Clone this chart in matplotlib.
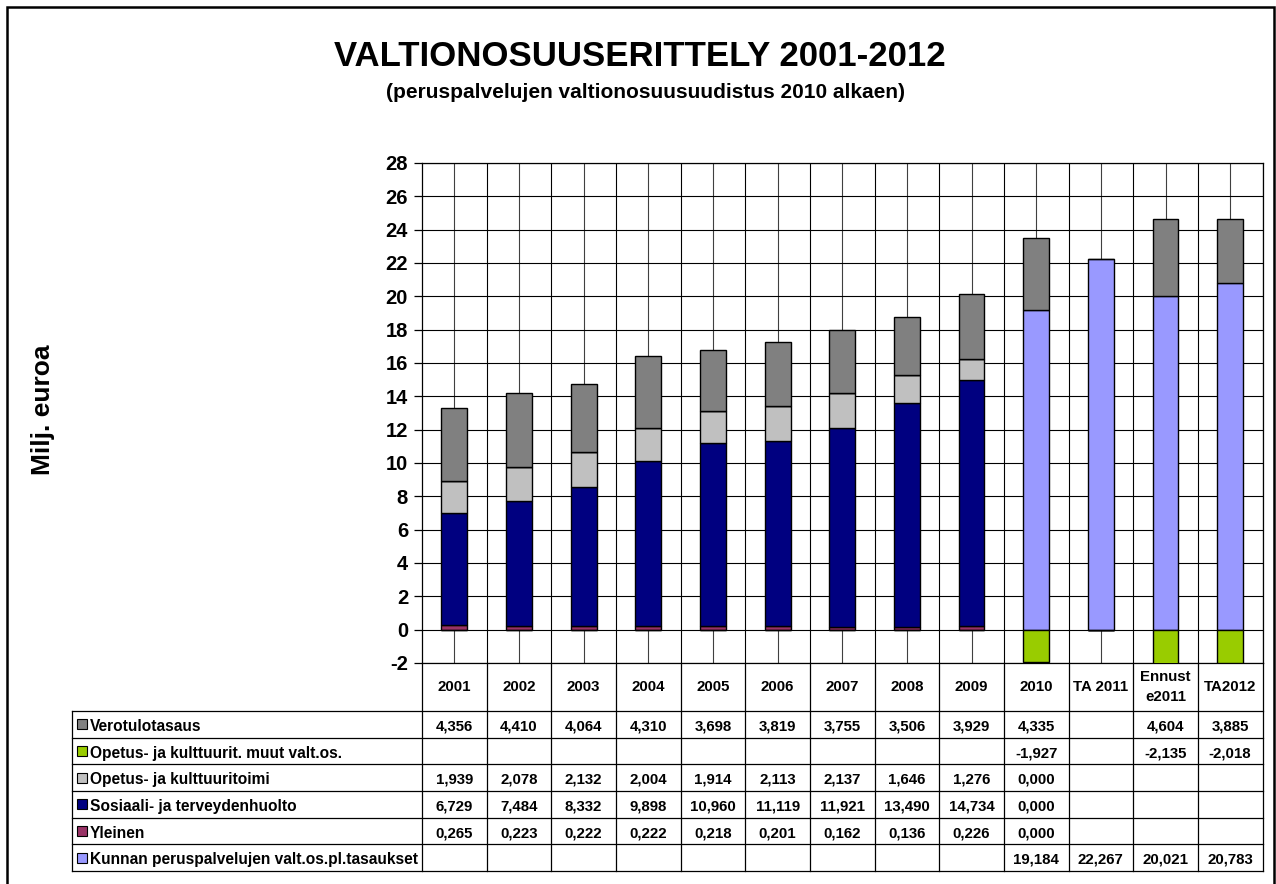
import numpy as np
import matplotlib
matplotlib.use('Agg')
import matplotlib.pyplot as plt
from matplotlib.patches import Rectangle

plt.rcParams['font.family'] = ['Liberation Sans', 'DejaVu Sans']
plt.rcParams['font.weight'] = 'bold'

nan = np.nan
categories = ['2001', '2002', '2003', '2004', '2005', '2006', '2007', '2008', '2009',
              '2010', 'TA 2011', 'Ennust\ne2011', 'TA2012']

verotulotasaus = [4.356, 4.410, 4.064, 4.310, 3.698, 3.819, 3.755, 3.506, 3.929, 4.335, nan, 4.604, 3.885]
opetus_muut = [nan, nan, nan, nan, nan, nan, nan, nan, nan, -1.927, nan, -2.135, -2.018]
opetus = [1.939, 2.078, 2.132, 2.004, 1.914, 2.113, 2.137, 1.646, 1.276, 0.000, nan, nan, nan]
sosiaali = [6.729, 7.484, 8.332, 9.898, 10.960, 11.119, 11.921, 13.490, 14.734, 0.000, nan, nan, nan]
yleinen = [0.265, 0.223, 0.222, 0.222, 0.218, 0.201, 0.162, 0.136, 0.226, 0.000, nan, nan, nan]
kunnan = [nan, nan, nan, nan, nan, nan, nan, nan, nan, 19.184, 22.267, 20.021, 20.783]

series_names = ['Verotulotasaus', 'Opetus- ja kulttuurit. muut valt.os.', 'Opetus- ja kulttuuritoimi',
                'Sosiaali- ja terveydenhuolto', 'Yleinen', 'Kunnan peruspalvelujen valt.os.pl.tasaukset']
series_values = [verotulotasaus, opetus_muut, opetus, sosiaali, yleinen, kunnan]
series_colors = ['#808080', '#99CC00', '#C0C0C0', '#000080', '#993366', '#9999FF']

title = 'VALTIONOSUUSERITTELY 2001-2012'
subtitle = '(peruspalvelujen valtionosuusuudistus 2010 alkaen)'
ylabel = 'Milj. euroa'

W, H = 1276, 884
fig = plt.figure(figsize=(W / 100, H / 100), dpi=100)

def fx(px):
    return px / W

def fy(py):
    return 1 - py / H

# frame
fig.patches.append(Rectangle((fx(7), -0.05), fx(1274) - fx(7), fy(7) + 0.05,
                             transform=fig.transFigure, fill=False, lw=1.8,
                             edgecolor='black', zorder=0))

left_px, right_px = 422, 1262.5
ax = fig.add_axes([fx(left_px), fy(663), (right_px - left_px) / W, 500 / H])
n = len(categories)
x = np.arange(n)
bw = 0.4

# stacking: bottom to top
stack_order = [4, 3, 2, 5, 0]
bottom = np.zeros(n)
for i in stack_order:
    vals = np.nan_to_num(np.array(series_values[i], dtype=float))
    ax.bar(x, vals, bw, bottom=bottom, color=series_colors[i], edgecolor='black',
           linewidth=1.0, zorder=3)
    bottom = bottom + vals
neg = np.nan_to_num(np.array(opetus_muut, dtype=float))
ax.bar(x, neg, bw, color=series_colors[1], edgecolor='black', linewidth=1.0, zorder=3)

ax.set_xlim(-0.5, n - 0.5)
ax.set_ylim(-2, 28)
ax.set_yticks(np.arange(-2, 29, 2))
ax.set_yticklabels([str(v) for v in range(-2, 29, 2)], fontsize=14.5, fontweight='bold')
ax.tick_params(axis='y', direction='out', length=6, width=0.9, pad=4)
ax.set_xticks([])
ax.grid(axis='y', color='black', lw=0.8, zorder=1)
for k in range(n):
    ax.axvline(k, color='#404040', lw=0.8, zorder=1)
    ax.axvline(k + 0.5, color='black', lw=0.8, zorder=1)
for s in ax.spines.values():
    s.set_color('black')
    s.set_linewidth(0.9)

# data table axes
tab = fig.add_axes([fx(left_px), fy(871), (right_px - left_px) / W, 208 / H])
tab.set_xlim(-0.5, n - 0.5)
tab.set_ylim(0, 7.8)
tab.axis('off')
px_per_unit = (right_px - left_px) / n
xlab_left = -0.5 + (72 - left_px) / px_per_unit
xkey = -0.5 + (82 - left_px) / px_per_unit
xtext = -0.5 + (90 - left_px) / px_per_unit

lc = 'black'
lw = 0.9
for r in range(0, 7):
    tab.plot([xlab_left, n - 0.5], [r, r], color=lc, lw=lw, clip_on=False)
tab.plot([xlab_left, xlab_left], [0, 6], color=lc, lw=lw, clip_on=False)
for k in range(n + 1):
    tab.plot([k - 0.5, k - 0.5], [0, 7.8], color=lc, lw=lw, clip_on=False)

for k, c in enumerate(categories):
    tab.text(k, 6.9, c, ha='center', va='center', fontsize=10.8, fontweight='bold',
             linespacing=1.5, clip_on=False)

for r, (name, vals, col) in enumerate(zip(series_names, series_values, series_colors)):
    yc = 5.5 - r
    tab.plot([xkey], [yc], marker='s', markersize=6.5, markerfacecolor=col,
             markeredgecolor='black', markeredgewidth=0.8, clip_on=False)
    tab.text(xtext, yc - 0.02, name, ha='left', va='center_baseline', fontsize=11.2,
             fontweight='bold', clip_on=False)
    for k, v in enumerate(vals):
        if not np.isnan(v):
            tab.text(k, yc - 0.02, f'{v:.3f}'.replace('.', ','), ha='center',
                     va='center_baseline', fontsize=10.8, fontweight='bold', clip_on=False)

fig.text(fx(640), fy(57), title, ha='center', va='center', fontsize=25, fontweight='bold')
fig.text(fx(646), fy(93), subtitle, ha='center', va='center', fontsize=15, fontweight='bold')
fig.text(fx(43), fy(410), ylabel, ha='center', va='center', rotation=90, fontsize=19,
         fontweight='bold')

fig.savefig('out.png', dpi=100)
